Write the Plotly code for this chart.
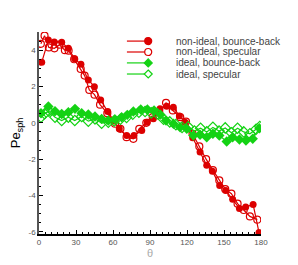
import plotly.graph_objects as go

# ---------------- data ----------------
theta_ni_bb = [2.2, 7.6, 12.4, 18.4, 23.8, 28.9, 34.0, 40.0, 44.9, 50.0, 55.7, 60.5, 65.1, 71.1,
               77.0, 83.3, 87.8, 92.7, 98.1, 103.5, 108.9, 113.8, 118.4, 124.6, 130.6, 136.0,
               140.6, 146.5, 151.4, 157.0, 162.5, 167.6, 173.6, 178.4]
pe_ni_bb = [3.33, 4.56, 4.45, 4.43, 4.10, 3.53, 3.22, 2.36, 1.99, 1.26, 0.62, 0.10, -0.33, -0.70,
            -0.70, -0.42, 0.03, 0.22, 0.78, 0.91, 0.86, 0.38, 0.03, -0.82, -1.61, -2.33,
            -2.66, -3.45, -3.72, -4.21, -4.71, -4.64, -4.49, -6.04]

theta_ni_sp = [1.5, 4.5, 8.0, 12.5, 16.5, 21.0, 24.0, 28.5, 33.8, 37.0, 40.8, 45.0, 49.5, 55.4,
               61.6, 66.0, 71.0, 76.5, 81.3, 87.0, 92.2, 97.5, 103.0, 108.5, 114.5, 119.2,
               124.5, 130.0, 135.5, 141.0, 146.2, 151.0, 156.0, 161.0, 166.0, 171.0, 177.0]
pe_ni_sp = [4.35, 4.80, 4.15, 4.10, 4.30, 4.00, 3.97, 3.50, 2.97, 2.60, 1.81, 1.55, 1.00, 0.53,
            -0.05, -0.33, -0.79, -0.88, -0.33, 0.00, 0.31, 0.60, 1.10, 0.68, 0.31, 0.07,
            -0.60, -1.30, -2.00, -2.60, -3.17, -3.65, -3.90, -4.45, -4.80, -5.15, -5.33]

theta_id_bb = [1.6, 7.6, 13.0, 18.4, 23.8, 29.2, 34.6, 40.0, 45.4, 50.8, 56.2, 61.5, 67.0, 71.6,
               76.5, 82.5, 87.9, 93.3, 98.5, 103.0, 109.0, 114.4, 119.8, 125.2, 130.6, 136.0,
               141.0, 146.2, 152.2, 157.0, 162.5, 167.8, 173.3, 178.7]
pe_id_bb = [0.53, 0.90, 0.64, 0.49, 0.58, 0.77, 0.53, 0.46, 0.35, 0.22, 0.13, 0.20, 0.31, 0.44,
            0.62, 0.73, 0.73, 0.68, 0.45, 0.13, -0.05, -0.24, -0.33, -0.70, -0.66, -0.79,
            -0.60, -0.70, -1.03, -0.79, -0.92, -0.97, -0.88, -0.30]

theta_id_sp = [1.6, 4.5, 8.0, 13.0, 18.4, 23.8, 29.0, 34.6, 40.0, 45.4, 50.8, 56.2, 61.0, 66.0,
               71.0, 76.0, 81.0, 86.0, 91.0, 96.0, 101.0, 106.0, 111.0, 116.0, 121.0, 126.0,
               131.0, 136.0, 141.0, 146.0, 151.0, 156.0, 161.0, 166.0, 171.0, 176.0, 179.0]
pe_id_sp = [0.31, 0.50, 0.64, 0.31, 0.13, 0.31, 0.13, 0.35, 0.09, 0.22, -0.02, 0.04, 0.10, 0.20,
            0.30, 0.48, 0.58, 0.62, 0.55, 0.50, 0.20, 0.05, -0.10, -0.25, -0.22, -0.45,
            -0.30, -0.50, -0.25, -0.45, -0.28, -0.55, -0.30, -0.50, -0.60, -0.35, -0.20]

series_names = ["non-ideal, bounce-back", "non-ideal, specular",
                "ideal, bounce-back", "ideal, specular"]

x_tickvals = [0, 30, 60, 90, 120, 150, 180]
x_ticktext = ["0", "30", "60", "90", "120", "150", "180"]
y_tickvals = [-6, -4, -2, 0, 2, 4]
y_ticktext = ["-6", "-4", "-2", "0", "2", "4"]

# ---------------- style ----------------
RED = "#dc0000"
GREEN = "#14d214"
FONT = "Liberation Sans, Arial, sans-serif"

fig = go.Figure()
fig.add_trace(go.Scatter(x=theta_ni_bb, y=pe_ni_bb, mode="lines+markers", name=series_names[0],
                         line=dict(color=RED, width=1.2),
                         marker=dict(symbol="circle", size=7, color=RED, line=dict(width=0))))
fig.add_trace(go.Scatter(x=theta_ni_sp, y=pe_ni_sp, mode="lines+markers", name=series_names[1],
                         line=dict(color=RED, width=1.2),
                         marker=dict(symbol="circle-open", size=7, color=RED, line=dict(width=1.2))))
fig.add_trace(go.Scatter(x=theta_id_bb, y=pe_id_bb, mode="lines+markers", name=series_names[2],
                         line=dict(color=GREEN, width=1.2),
                         marker=dict(symbol="diamond", size=8, color=GREEN, line=dict(width=0))))
fig.add_trace(go.Scatter(x=theta_id_sp, y=pe_id_sp, mode="lines+markers", name=series_names[3],
                         line=dict(color=GREEN, width=1.2),
                         marker=dict(symbol="diamond-open", size=8, color=GREEN, line=dict(width=1.2))))

# ---------------- custom compact legend ----------------
legend_rows_y = [0.955, 0.901, 0.847, 0.792]
legend_colors = [RED, RED, GREEN, GREEN]
legend_filled = [True, False, True, False]
legend_symbol = ["circle", "circle", "diamond", "diamond"]
lx0, lx1, lmark, ltext = 0.396, 0.495, 0.492, 0.61
shapes = []
annotations = []
for i, name in enumerate(series_names):
    yy = legend_rows_y[i]
    c = legend_colors[i]
    shapes.append(dict(type="line", xref="paper", yref="paper", x0=lx0, x1=lx1, y0=yy, y1=yy,
                       line=dict(color=c, width=1.2)))
    fill = c if legend_filled[i] else "white"
    if legend_symbol[i] == "circle":
        shapes.append(dict(type="circle", xref="paper", yref="paper",
                           xsizemode="pixel", ysizemode="pixel", xanchor=lmark, yanchor=yy,
                           x0=-3.5, x1=3.5, y0=-3.5, y1=3.5,
                           fillcolor=fill, line=dict(color=c, width=1.2)))
    else:
        shapes.append(dict(type="path", xref="paper", yref="paper",
                           xsizemode="pixel", ysizemode="pixel", xanchor=lmark, yanchor=yy,
                           path="M0,4 L4,0 L0,-4 L-4,0 Z",
                           fillcolor=fill, line=dict(color=c, width=1.2)))
    annotations.append(dict(x=ltext, y=yy, xref="paper", yref="paper", text=name,
                            showarrow=False, xanchor="left", yanchor="middle",
                            font=dict(family=FONT, size=10, color="#444444")))

# page body has an 8px default margin, so the figure is 8px smaller and margins shifted
fig.update_layout(
    width=290, height=257,
    margin=dict(l=31, r=37, t=24, b=31),
    paper_bgcolor="white", plot_bgcolor="white",
    showlegend=False,
    shapes=shapes, annotations=annotations,
    font=dict(family=FONT),
)
fig.update_xaxes(
    automargin=False,
    range=[0, 180], tickmode="array", tickvals=x_tickvals, ticktext=x_ticktext,
    ticks="inside", ticklen=4, tickwidth=1.2, tickcolor="black",
    minor=dict(tickmode="linear", tick0=0, dtick=5, ticks="inside", ticklen=2, tickcolor="black"),
    showline=True, linecolor="black", linewidth=1.6, showgrid=False, zeroline=False,
    tickfont=dict(family=FONT, size=8, color="#555555"),
    title=dict(text="θ", font=dict(family=FONT, size=11, color="#aaaaaa"), standoff=2),
)
fig.update_yaxes(
    automargin=False,
    range=[-6.12, 5.0], tickmode="array", tickvals=y_tickvals, ticktext=y_ticktext,
    ticks="inside", ticklen=4, tickwidth=1.2, tickcolor="black",
    minor=dict(tickmode="linear", tick0=0, dtick=0.5, ticks="inside", ticklen=2, tickcolor="black"),
    showline=True, linecolor="#555555", linewidth=1.6, showgrid=False, zeroline=False,
    tickfont=dict(family=FONT, size=8, color="#555555"),
    title=dict(text="Pe<sub>sph</sub>", font=dict(family=FONT, size=13, color="black"), standoff=8),
)

fig.write_html("out.html")
